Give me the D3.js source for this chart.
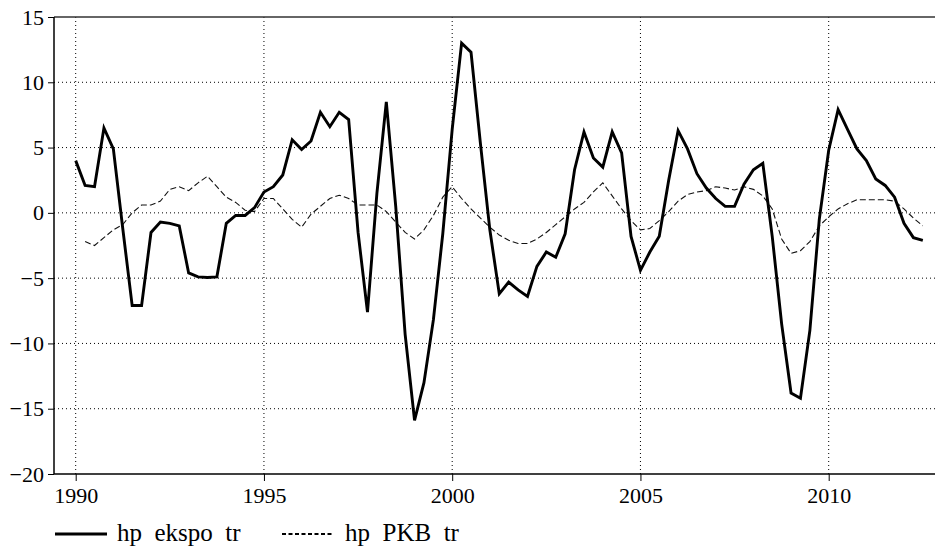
<!DOCTYPE html>
<html>
<head>
<meta charset="utf-8">
<script src="https://cdn.jsdelivr.net/npm/d3@7"></script>
<style>
	body { margin: 0; background: #fff; }
	text { font-family: "Liberation Serif", "DejaVu Serif", serif; fill: #000; }
</style>
</head>
<body>
<div id="fig_chart"></div>
<script>
	// quarterly data, first quarter of 1990 up to 2012 Q3
	var startYear = 1990;
	var ekspo = [
		4.0, 2.1, 2.0, 6.5,
		4.9, -1.2, -7.1, -7.1,
		-1.5, -0.7, -0.8, -1.0,
		-4.6, -4.9, -4.95, -4.9,
		-0.8, -0.2, -0.2, 0.4,
		1.6, 2.0, 2.9, 5.6,
		4.85, 5.5, 7.7, 6.6,
		7.7, 7.15, -1.5, -7.6,
		1.5, 8.5, 0.5, -9.3,
		-15.9, -13.0, -8.2, -1.6,
		6.4, 13.0, 12.3, 5.3,
		-1.3, -6.2, -5.3, -5.9,
		-6.4, -4.1, -3.0, -3.4,
		-1.6, 3.3, 6.2, 4.2,
		3.5, 6.2, 4.6, -1.8,
		-4.4, -3.0, -1.8, 2.5,
		6.3, 4.9, 3.0, 1.9,
		1.1, 0.5, 0.5, 2.2,
		3.3, 3.8, -1.8, -8.5,
		-13.8, -14.2, -9.0, -0.5,
		4.8, 7.9, 6.4, 4.9,
		4.0, 2.6, 2.1, 1.2,
		-0.8, -1.9, -2.1
	];
	var pkb = [
		null, -2.2, -2.5, -1.9,
		-1.3, -0.9, 0.0, 0.6,
		0.6, 0.9, 1.8, 2.0,
		1.7, 2.3, 2.8, 2.0,
		1.2, 0.8, 0.2, 0.1,
		1.1, 1.1, 0.3, -0.5,
		-1.1, -0.1, 0.5, 1.1,
		1.35, 1.1, 0.6, 0.6,
		0.6, 0.1, -0.7, -1.5,
		-2.0, -1.3, -0.2, 1.2,
		2.0, 1.1, 0.3, -0.4,
		-1.1, -1.7, -2.1, -2.35,
		-2.35, -2.0, -1.5, -0.9,
		-0.3, 0.3, 0.8, 1.6,
		2.3, 1.3, 0.3, -0.6,
		-1.3, -1.2, -0.6, 0.1,
		0.9, 1.4, 1.6, 1.7,
		2.0, 1.9, 1.75, 2.0,
		1.8, 1.3, 0.3, -2.0,
		-3.1, -2.9, -2.2, -1.0,
		-0.3, 0.3, 0.7, 1.0,
		1.0, 1.0, 1.0, 0.9,
		0.3, -0.4, -1.0
	];
	var xTicks = [1990, 1995, 2000, 2005, 2010];
	var yTicks = [-20, -15, -10, -5, 0, 5, 10, 15];
	var seriesNames = ["hp ekspo tr", "hp PKB tr"];

	var width = 935, height = 546;
	// plot frame (note: "top" is a reserved window global, so prefix these)
	var plotLeft = 54, plotTop = 17, plotBottom = 474, plotRight = 935;

	// scales
	var x = d3.scaleLinear().domain([1990, 2010]).range([75.7, 828.7]);
	var y = d3.scaleLinear().domain([-20, 15]).range([plotBottom, plotTop]);

	var svg = d3.select("#fig_chart")
		.append("svg")
		.attr("width", width)
		.attr("height", height);

	// dotted grid
	svg.append("g")
		.selectAll("line")
		.data(yTicks.filter(function(d) { return d > -20 && d < 15; }))
		.enter()
		.append("line")
		.attr("x1", plotLeft).attr("x2", plotRight)
		.attr("y1", function(d) { return y(d); })
		.attr("y2", function(d) { return y(d); })
		.attr("stroke", "#000")
		.attr("stroke-width", 1)
		.attr("stroke-dasharray", "1,3");

	svg.append("g")
		.selectAll("line")
		.data(xTicks)
		.enter()
		.append("line")
		.attr("x1", function(d) { return x(d); })
		.attr("x2", function(d) { return x(d); })
		.attr("y1", plotTop).attr("y2", plotBottom)
		.attr("stroke", "#000")
		.attr("stroke-width", 1)
		.attr("stroke-dasharray", "1,3");

	// axes
	var yAxis = d3.axisLeft(y)
		.tickValues(yTicks)
		.tickSize(6)
		.tickPadding(4)
		.tickFormat(function(d) { return d < 0 ? "\u2212" + Math.abs(d) : d; });
	var gy = svg.append("g")
		.attr("transform", "translate(" + plotLeft + ",0)")
		.call(yAxis);
	gy.select(".domain").remove();
	gy.selectAll("text").attr("font-size", 22).attr("font-family", "Liberation Serif");
	gy.selectAll("line").attr("stroke", "#000");

	var xAxis = d3.axisBottom(x)
		.tickValues(xTicks)
		.tickSize(7)
		.tickPadding(6)
		.tickFormat(d3.format("d"));
	var gx = svg.append("g")
		.attr("transform", "translate(0," + plotBottom + ")")
		.call(xAxis);
	gx.select(".domain").remove();
	gx.selectAll("text").attr("font-size", 22).attr("font-family", "Liberation Serif");
	gx.selectAll("line").attr("stroke", "#000");

	// frame lines
	svg.append("line")
		.attr("x1", plotLeft).attr("x2", plotRight).attr("y1", plotTop).attr("y2", plotTop)
		.attr("stroke", "#333").attr("stroke-width", 1.5);
	svg.append("line")
		.attr("x1", plotLeft).attr("x2", plotRight).attr("y1", plotBottom).attr("y2", plotBottom)
		.attr("stroke", "#000").attr("stroke-width", 1.5);
	svg.append("line")
		.attr("x1", plotLeft).attr("x2", plotLeft).attr("y1", plotTop).attr("y2", plotBottom)
		.attr("stroke", "#000").attr("stroke-width", 1.5);

	// lines
	function makeLine(values) {
		return d3.line()
			.defined(function(d) { return d !== null; })
			.x(function(d, i) { return x(startYear + i / 4); })
			.y(function(d) { return y(d); })(values);
	}

	svg.append("path")
		.attr("d", makeLine(pkb))
		.attr("fill", "none")
		.attr("stroke", "#111")
		.attr("stroke-width", 1.1)
		.attr("stroke-dasharray", "6,3");

	svg.append("path")
		.attr("d", makeLine(ekspo))
		.attr("fill", "none")
		.attr("stroke", "#000")
		.attr("stroke-width", 2.9)
		.attr("stroke-linejoin", "miter");

	// legend
	var legend = svg.append("g");
	legend.append("line")
		.attr("x1", 55).attr("x2", 107).attr("y1", 534).attr("y2", 534)
		.attr("stroke", "#000").attr("stroke-width", 2.8);
	legend.append("text")
		.attr("x", 117).attr("y", 541)
		.attr("font-size", 25)
		.attr("xml:space", "preserve")
		.text(seriesNames[0].replace(/ /g, "  "));
	legend.append("line")
		.attr("x1", 282).attr("x2", 333).attr("y1", 534).attr("y2", 534)
		.attr("stroke", "#000").attr("stroke-width", 2)
		.attr("stroke-dasharray", "4,2.5");
	legend.append("text")
		.attr("x", 345).attr("y", 541)
		.attr("font-size", 25)
		.attr("xml:space", "preserve")
		.text(seriesNames[1].replace(/ /g, "  "));
</script>
</body>
</html>
